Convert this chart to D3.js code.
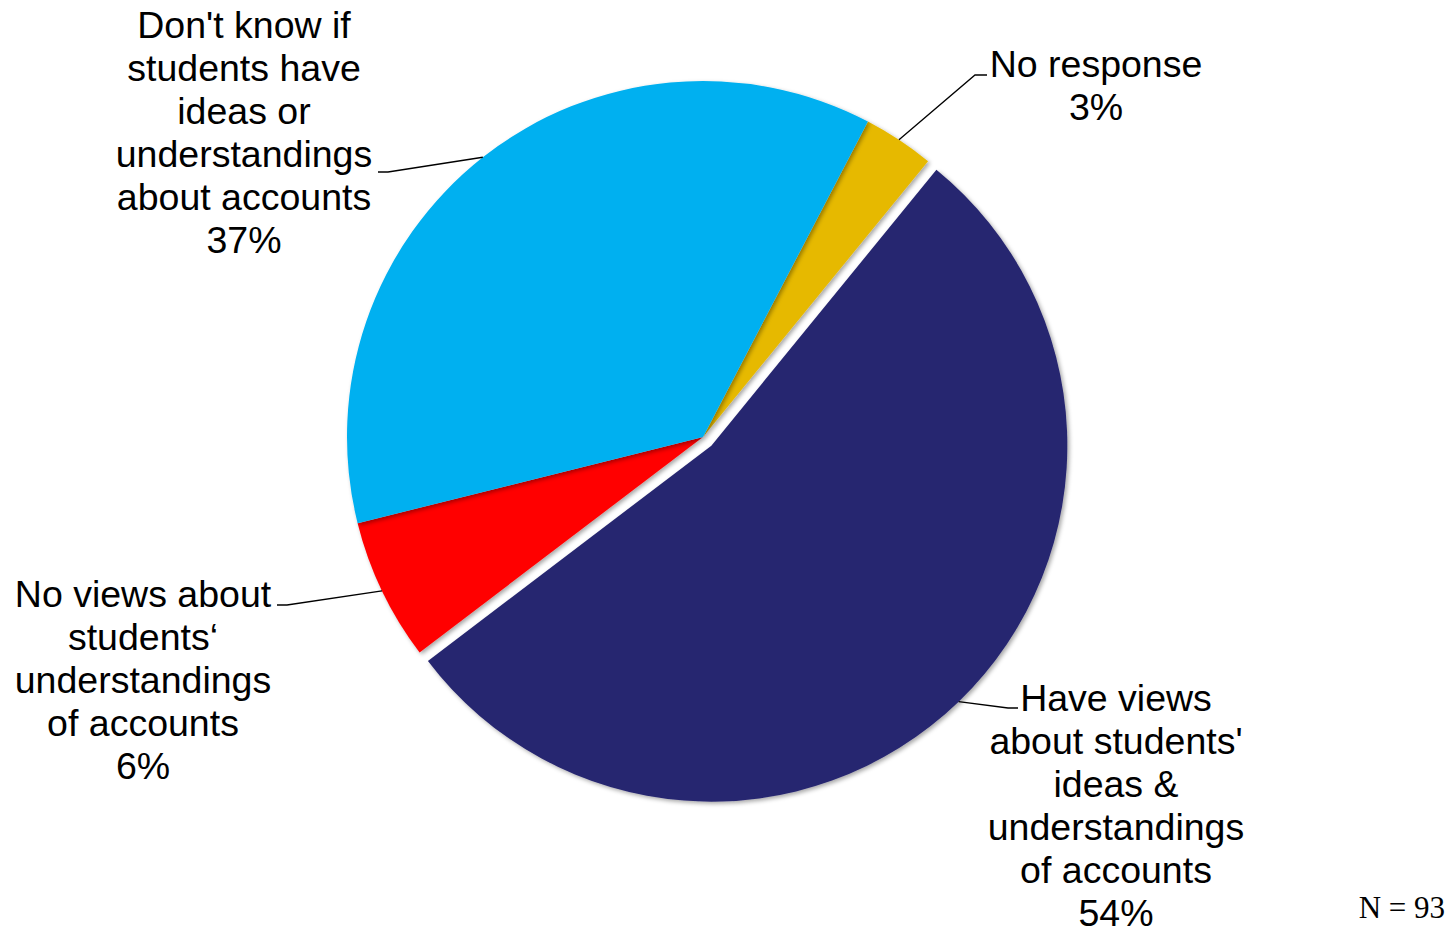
<!DOCTYPE html>
<html>
<head>
<meta charset="utf-8">
<script src="https://cdn.jsdelivr.net/npm/d3@7"></script>
<style>
  html, body { margin: 0; padding: 0; background: #fff; }
  svg { display: block; font-family: "Liberation Sans", Arial, sans-serif; }
</style>
</head>
<body>
<div id="chart"></div>
<script>
// data, in drawing order (clockwise from the start angle)
const categories = [
  "No response",
  "Have views about students' ideas & understandings of accounts",
  "No views about students‘ understandings of accounts",
  "Don't know if students have ideas or understandings about accounts"
];
const counts = [3, 50, 6, 34];          // N = 93
const percentLabels = ["3%", "54%", "6%", "37%"];
const labelLines = [
  ["No response"],
  ["Have views", "about students'", "ideas &", "understandings", "of accounts"],
  ["No views about", "students‘", "understandings", "of accounts"],
  ["Don't know if", "students have", "ideas or", "understandings", "about accounts"]
];
const sliceColors = ["#E6B900", "#28276F", "#FF0000", "#00B0F0"];
const exploded = [false, true, false, false];
const nLabel = "N = 93";

// layout
const width = 1455, height = 928;
const cx = 703, cy = 437, radius = 356;
const explodeDist = 12;
const startDeg = 27.6;
const lineH = 43;
// label block centre x, first baseline y, elbow point, leader end x
const labelLayout = [
  { x: 1096, y: 77,  elbow: [975, 75],  end: 987 },
  { x: 1116, y: 711, elbow: [1008, 708], end: 1018 },
  { x: 143,  y: 607, elbow: [287, 605], end: 277 },
  { x: 244,  y: 38,  elbow: [388, 172], end: 378 }
];

const svg = d3.select("#chart").append("svg")
  .attr("width", width)
  .attr("height", height);

const defs = svg.append("defs");
defs.append("filter")
  .attr("id", "shadow")
  .attr("x", "-10%").attr("y", "-10%")
  .attr("width", "120%").attr("height", "120%")
  .append("feDropShadow")
  .attr("dx", 2).attr("dy", 2)
  .attr("stdDeviation", 2)
  .attr("flood-color", "#000")
  .attr("flood-opacity", 0.35);

const pie = d3.pie()
  .sort(null)
  .value((d) => d)
  .startAngle(startDeg * Math.PI / 180)
  .endAngle(startDeg * Math.PI / 180 + 2 * Math.PI);

const arcs = pie(counts);
const arc = d3.arc().innerRadius(0).outerRadius(radius);

function offsetOf(d, i) {
  if (!exploded[i]) return [0, 0];
  const mid = (d.startAngle + d.endAngle) / 2;
  return [Math.sin(mid) * explodeDist, -Math.cos(mid) * explodeDist];
}

const pieG = svg.append("g")
  .attr("transform", `translate(${cx},${cy})`);

pieG.selectAll("path.slice")
  .data(arcs)
  .enter()
  .append("path")
  .attr("class", "slice")
  .attr("d", arc)
  .attr("fill", (d, i) => sliceColors[i])
  .attr("filter", "url(#shadow)")
  .attr("transform", (d, i) => {
    const o = offsetOf(d, i);
    return `translate(${o[0]},${o[1]})`;
  });

// leader lines
pieG.selectAll("polyline.leader")
  .data(arcs)
  .enter()
  .append("polyline")
  .attr("class", "leader")
  .attr("fill", "none")
  .attr("stroke", "#000")
  .attr("stroke-width", 1.3)
  .attr("points", (d, i) => {
    const o = offsetOf(d, i);
    const mid = (d.startAngle + d.endAngle) / 2;
    const sx = Math.sin(mid) * radius + o[0];
    const sy = -Math.cos(mid) * radius + o[1];
    const L = labelLayout[i];
    return [
      [sx, sy],
      [L.elbow[0] - cx, L.elbow[1] - cy],
      [L.end - cx, L.elbow[1] - cy]
    ].map((p) => p.join(",")).join(" ");
  });

// labels
const labels = svg.selectAll("text.label")
  .data(arcs)
  .enter()
  .append("text")
  .attr("class", "label")
  .attr("text-anchor", "middle")
  .attr("font-size", 37.5)
  .attr("fill", "#000");

labels.each(function (d, i) {
  const L = labelLayout[i];
  const lines = labelLines[i].concat([percentLabels[i]]);
  d3.select(this).selectAll("tspan")
    .data(lines)
    .enter()
    .append("tspan")
    .attr("x", L.x)
    .attr("y", (t, j) => L.y + j * lineH)
    .text((t) => t);
});

svg.append("text")
  .attr("x", 1445)
  .attr("y", 918)
  .attr("text-anchor", "end")
  .attr("font-family", "'Liberation Serif', 'Times New Roman', serif")
  .attr("font-size", 31)
  .attr("fill", "#000")
  .text(nLabel);
</script>
</body>
</html>
